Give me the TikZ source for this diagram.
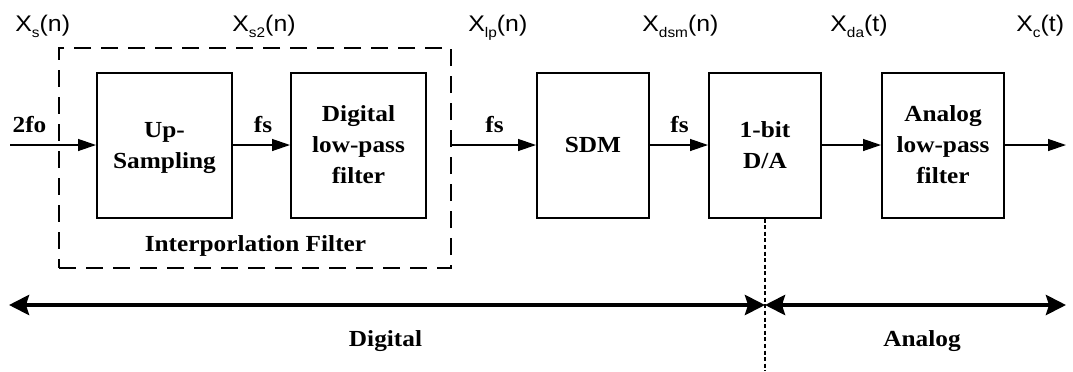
\documentclass[tikz,border=0pt]{standalone}
\usepackage{fontspec}
\setmainfont{Liberation Serif}[FakeStretch=1.1]
\newfontfamily\sigfont{Liberation Sans}[FakeStretch=1.1]
\usetikzlibrary{arrows.meta}

% strut giving every block line the same height and depth
\newcommand\lnstrut{\rule[-3pt]{0pt}{13.5pt}}
% signal name with a lowered subscript
\newcommand\sig[2]{{\sigfont\fontsize{11.3}{13}\selectfont X\raisebox{-3pt}{\fontsize{7}{8}\selectfont #1}#2}}

\begin{document}
\begin{tikzpicture}[x=0.5pt,y=-0.5pt,
  blk/.style={draw, line width=1pt, inner sep=0pt, minimum height=72.5pt,
    align=center, font=\bfseries\fontsize{11.5}{15.5}\selectfont},
  lbl/.style={inner sep=0pt, anchor=base, font=\bfseries\fontsize{11.5}{14}\selectfont},
  sgl/.style={inner sep=0pt, anchor=base west},
  wire/.style={line width=0.65pt, -{Triangle[length=9pt,width=6pt]}},
  span/.style={line width=2pt,
    {Stealth[length=10pt,width=10pt,inset=1.5pt]}-{Stealth[length=10pt,width=10pt,inset=1.5pt]}},
  group/.style={draw, line width=1pt, dash pattern=on 8.5pt off 5pt, inner sep=0pt},
  border/.style={line width=1pt, dash pattern=on 2pt off 1.3pt}]

\useasboundingbox (0,0) rectangle (1073,371);

% interpolation filter group
\node[group, minimum width=196pt, minimum height=110pt] (ifbox) at (255,158) {};

% processing blocks
\node[blk, minimum width=67.5pt] (up)  at (164.5,145) {\lnstrut Up-\\\lnstrut Sampling};
\node[blk, minimum width=67.5pt] (dlp) at (358.5,145) {\lnstrut Digital\\\lnstrut low-pass\\\lnstrut filter};
\node[blk, minimum width=56pt]   (sdm) at (593,145)   {\lnstrut SDM};
\node[blk, minimum width=56pt]   (da)  at (765,145)   {\lnstrut 1-bit\\\lnstrut D/A};
\node[blk, minimum width=61pt]   (alp) at (943,145)   {\lnstrut Analog\\\lnstrut low-pass\\\lnstrut filter};

% signal path
\coordinate (src) at (10,145);
\coordinate (snk) at (1066,145);
\draw[wire] (src) -- (up.west);
\draw[wire] (up) -- (dlp);
\draw[wire] (ifbox.east |- sdm.west) -- (sdm.west);
\draw[wire] (sdm) -- (da);
\draw[wire] (da) -- (alp);
\draw[wire] (alp) -- (snk);

% rates
\node[lbl] (fin) at (29.5,132) {2fo};
\node[lbl] (f1)  at (263,132)   {fs};
\node[lbl] (f2)  at (494.5,132) {fs};
\node[lbl] (f3)  at (679.5,132) {fs};
\node[lbl] (iftxt) at (255.5,251) {Interporlation Filter};

% signal names
\node[sgl] (xs)   at (15,31)  {\sig{s}{(n)}};
\node[sgl] (xs2)  at (232,31) {\sig{s2}{(n)}};
\node[sgl] (xlp)  at (468,31) {\sig{lp}{(n)}};
\node[sgl] (xdsm) at (642,31) {\sig{dsm}{(n)}};
\node[sgl] (xda)  at (830,31) {\sig{da}{(t)}};
\node[sgl] (xc)   at (1016,31) {\sig{c}{(t)}};

% digital / analog domains
\coordinate (lft) at (9,305);
\coordinate (mid) at (765,305);
\coordinate (rgt) at (1066,305);
\coordinate (dend) at (765,371);
\draw[border] (da.south) -- (dend);
\draw[span] (lft) -- (mid);
\draw[span] (mid) -- (rgt);
\node[lbl] (dig) at (385.5,346) {Digital};
\node[lbl] (ana) at (922,346)   {Analog};
\end{tikzpicture}
\end{document}
